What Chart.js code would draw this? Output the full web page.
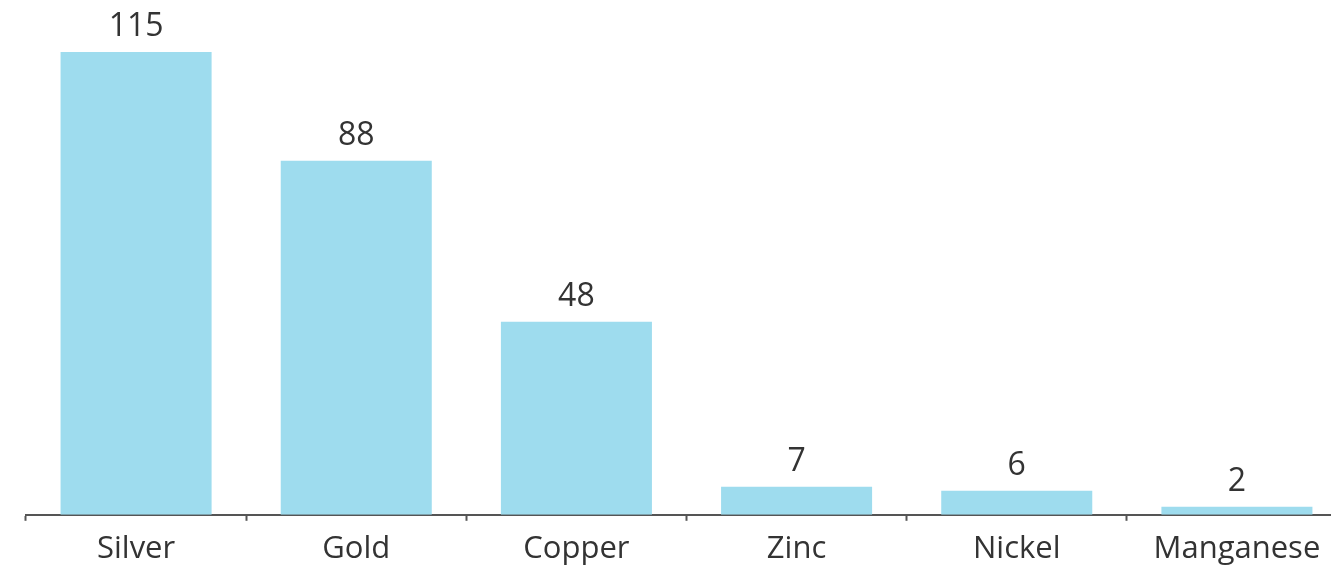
<!DOCTYPE html>
<html>
<head>
<meta charset="utf-8">
<script src="https://cdn.jsdelivr.net/npm/chart.js@4"></script>
<style>
    html, body { margin: 0; padding: 0; background: #fff; overflow: hidden; }
    #wrap { width: 1347px; height: 578px; position: relative; }
</style>
</head>
<body>
<div id="wrap"><canvas id="myChart"></canvas></div>
<script>
// Données du graphique
const metals = ['Silver', 'Gold', 'Copper', 'Zinc', 'Nickel', 'Manganese'];
const values = [115, 88, 48, 7, 6, 2];

const barColor = '#9EDCEE';
const textColor = '#333333';
const axisColor = '#555555';
const fontFamily = "'Open Sans', 'Noto Sans', sans-serif";

// Affiche la valeur au-dessus de chaque barre
const valueLabels = {
    id: 'valueLabels',
    afterDatasetsDraw(chart) {
        const ctx = chart.ctx;
        const meta = chart.getDatasetMeta(0);
        ctx.save();
        ctx.font = `32px ${fontFamily}`;
        ctx.fillStyle = textColor;
        ctx.textAlign = 'center';
        ctx.textBaseline = 'alphabetic';
        meta.data.forEach((bar, i) => {
            ctx.fillText(values[i], bar.x, bar.y - 16);
        });
        ctx.restore();
    }
};

const config = {
    type: 'bar',
    data: {
        labels: metals,
        datasets: [{
            data: values,
            backgroundColor: barColor,
            borderWidth: 0,
            barPercentage: 0.686,
            categoryPercentage: 1
        }]
    },
    options: {
        responsive: true,
        maintainAspectRatio: false,
        animation: false,
        layout: {
            padding: { left: 26, right: 0, top: 32, bottom: 0 }
        },
        scales: {
            x: {
                grid: {
                    display: true,
                    drawOnChartArea: false,
                    drawTicks: true,
                    tickLength: 6,
                    tickWidth: 2,
                    color: axisColor,
                    offset: true
                },
                border: { display: true, color: axisColor, width: 2 },
                ticks: {
                    color: textColor,
                    font: { family: fontFamily, size: 31 },
                    padding: 10,
                    maxRotation: 0,
                    autoSkip: false
                }
            },
            y: {
                display: false,
                min: 0,
                max: 120
            }
        },
        plugins: {
            legend: { display: false },
            tooltip: { enabled: false }
        }
    },
    plugins: [valueLabels]
};

const ctx = document.getElementById('myChart').getContext('2d');
const chart = new Chart(ctx, config);
</script>
</body>
</html>
